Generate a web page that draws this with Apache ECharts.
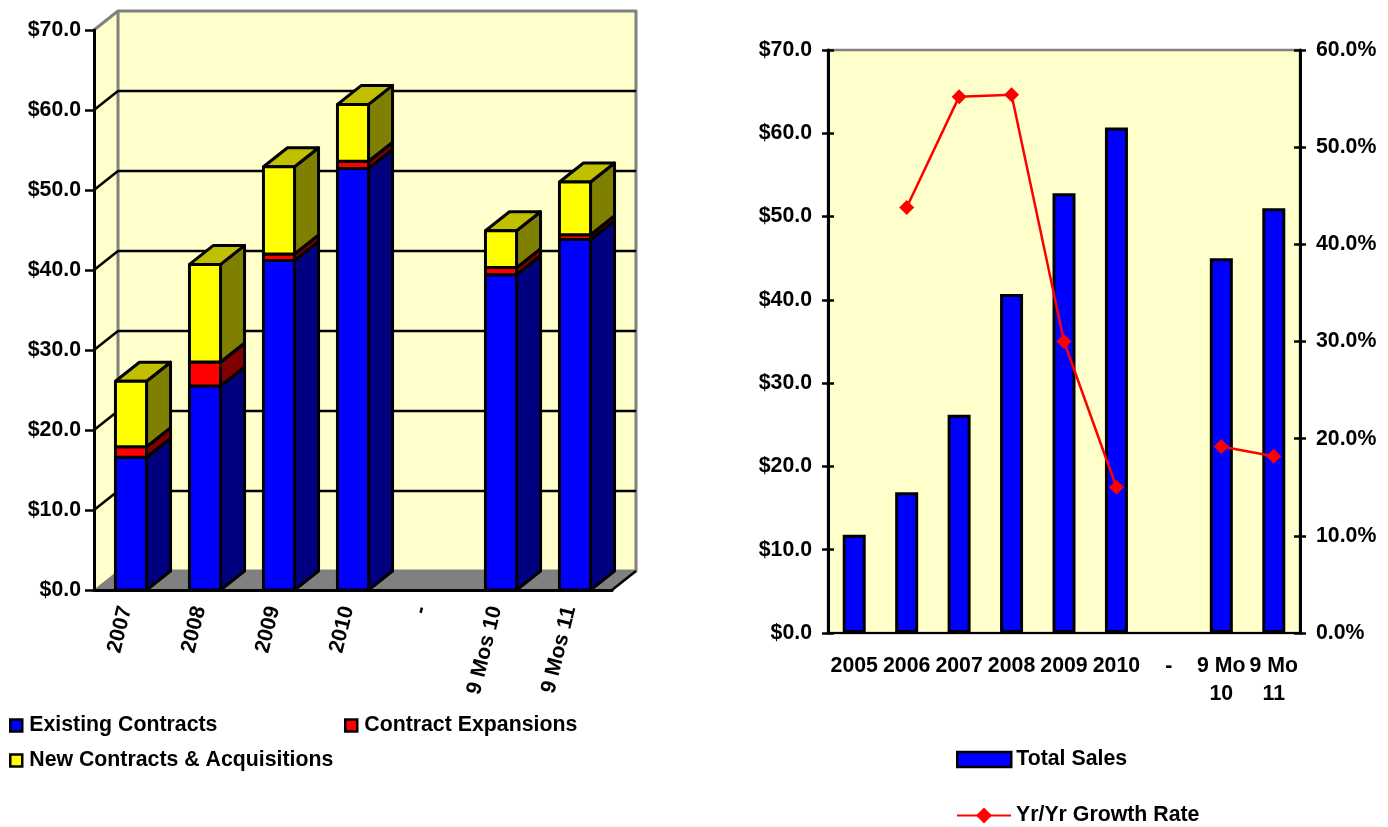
<!DOCTYPE html>
<html><head><meta charset="utf-8">
<style>html,body{margin:0;padding:0;background:#fff}#c{width:1388px;height:827px}</style>
<script src="https://cdn.jsdelivr.net/npm/echarts@6/dist/echarts.min.js"></script>
</head><body><div id="c"></div>
<script>
const leftCategories = ['2007','2008','2009','2010','-','9 Mos 10','9 Mos 11'];
const existingContracts = [16.6, 25.5, 41.2, 52.7, null, 39.4, 43.8];
const contractExpansions = [1.3, 3.0, 0.8, 0.9, null, 0.9, 0.6];
const newContracts = [8.2, 12.2, 10.9, 7.1, null, 4.6, 6.6];
const rightCategories = ['2005','2006','2007','2008','2009','2010','-','9 Mo\n10','9 Mo\n11'];
const totalSales = [11.8, 16.9, 26.2, 40.7, 52.8, 60.7, null, 45.0, 51.0];
const growthRate = [null, 43.8, 55.2, 55.4, 30.0, 15.0, null, 19.2, 18.2];
const wallGridValues = [10, 20, 30, 40, 50, 60];

const FONT = '"Liberation Sans", Arial, sans-serif';
const FS = 21.3;
const DX = 24, DY = -19;
const txt = (s) => ({fontFamily: FONT, fontWeight: 'bold', fontSize: s, color: '#000'});

function poly(points, fill, stroke, width) {
  return {type: 'polygon', shape: {points}, style: {fill: fill, stroke: stroke || '#000', lineWidth: width === undefined ? 3 : width, lineJoin: 'round'}};
}
function line(x1, y1, x2, y2, stroke, w) {
  return {type: 'line', shape: {x1, y1, x2, y2}, style: {stroke: stroke || '#000', lineWidth: w || 2.5}};
}
function renderWall(params, api) {
  const cs = params.coordSys;
  const l = cs.x, r = cs.x + cs.width, t = cs.y, b = cs.y + cs.height;
  const G = '#808080', W = '#FFFFCC';
  const kids = [
    poly([[l,b],[l,t],[l+DX,t+DY],[l+DX,b+DY]], W, 'none', 0),
    poly([[l+DX,t+DY],[r+DX,t+DY],[r+DX,b+DY],[l+DX,b+DY]], W, G),
    poly([[l,b],[r,b],[r+DX,b+DY],[l+DX,b+DY]], G, G, 1),
    line(l, t, l+DX, t+DY, G, 3),
    line(r, b, r+DX, b+DY, '#000')
  ];
  wallGridValues.forEach(v => {
    const y = api.coord([0, v])[1];
    kids.push(line(l, y, l+DX, y+DY));
    kids.push(line(l+DX, y+DY, r+DX, y+DY));
  });
  return {type: 'group', children: kids};
}
function makeBarRenderer(front, side, top) {
  return function (params, api) {
    const i = api.value(0);
    const p0 = api.coord([i, api.value(1)]);
    const p1 = api.coord([i, api.value(2)]);
    const w = api.size([1, 0])[0] * 0.42;
    const a = p0[0] - w / 2, c = p0[0] + w / 2, yb = p0[1], yt = p1[1];
    return {type: 'group', children: [
      poly([[c,yb],[c,yt],[c+DX,yt+DY],[c+DX,yb+DY]], side),
      poly([[a,yt],[c,yt],[c+DX,yt+DY],[a+DX,yt+DY]], top),
      poly([[a,yb],[c,yb],[c,yt],[a,yt]], front)
    ]};
  };
}
function stackData(values, lowers) {
  const out = [];
  values.forEach((v, i) => {
    if (v === null) return;
    const base = lowers.reduce((s, arr) => s + arr[i], 0);
    out.push([i, base, +(base + v).toFixed(2)]);
  });
  return out;
}
function barSeries(name, values, lowers, front, side, top, z) {
  return {name, type: 'custom', xAxisIndex: 0, yAxisIndex: 0, z, clip: false, silent: true,
    itemStyle: {color: front},
    renderItem: makeBarRenderer(front, side, top),
    encode: {x: 0, y: [1, 2]},
    data: stackData(values, lowers), animation: false};
}
const usd = v => '$' + v.toFixed(1);
const swatch = (name, color, left, top) => ({
  left, top, orient: 'horizontal', itemWidth: 12, itemHeight: 12, padding: 0, selectedMode: false,
  data: [{name, icon: 'rect', itemStyle: {color, borderColor: '#000', borderWidth: 2.5}}],
  textStyle: Object.assign(txt(FS), {padding: [0, 0, 0, 2]})
});

const chart = echarts.init(document.getElementById('c'), null, {renderer: 'canvas'});
chart.setOption({
  animation: false,
  backgroundColor: '#fff',
  textStyle: {fontFamily: FONT},
  grid: [
    {left: 94, top: 30, width: 518, height: 560, containLabel: false},
    {left: 828, top: 50, width: 472, height: 583, containLabel: false, show: true,
     backgroundColor: '#FFFFCC', borderColor: '#808080', borderWidth: 2.5}
  ],
  xAxis: [
    {type: 'category', gridIndex: 0, data: leftCategories, z: 10,
     axisLine: {lineStyle: {color: '#000', width: 3}},
     axisTick: {length: 9, lineStyle: {color: '#000', width: 2.5}},
     axisLabel: Object.assign(txt(FS), {rotate: 76, margin: 18, interval: 0, verticalAlign: 'bottom', padding: [0, 0, -5, 0]})},
    {type: 'category', gridIndex: 1, data: rightCategories, z: 10,
     axisLine: {lineStyle: {color: '#000', width: 2}},
     axisTick: {length: 6, lineStyle: {color: '#000', width: 2.5}},
     axisLabel: Object.assign(txt(FS), {margin: 19, interval: 0, lineHeight: 28})},
    {type: 'category', gridIndex: 1, data: rightCategories, z: 10,
     axisLine: {show: false}, axisLabel: {show: false},
     axisTick: {inside: true, length: 6, lineStyle: {color: '#000', width: 2.5}}}
  ],
  yAxis: [
    {type: 'value', gridIndex: 0, min: 0, max: 70, interval: 10, z: 10,
     axisLine: {show: true, lineStyle: {color: '#000', width: 3}},
     axisTick: {show: true, length: 9, lineStyle: {color: '#000', width: 2.5}},
     splitLine: {show: false},
     axisLabel: Object.assign(txt(FS), {margin: 13, formatter: usd})},
    {type: 'value', gridIndex: 1, min: 0, max: 70, interval: 10, z: 10, position: 'left',
     axisLine: {show: true, lineStyle: {color: '#000', width: 3}},
     axisTick: {show: true, length: 6, lineStyle: {color: '#000', width: 2.5}},
     splitLine: {show: false},
     axisLabel: Object.assign(txt(FS), {margin: 16, formatter: usd})},
    {type: 'value', gridIndex: 1, min: 0, max: 60, interval: 10, z: 10, position: 'right',
     axisLine: {show: true, lineStyle: {color: '#000', width: 3}},
     axisTick: {show: true, length: 6, lineStyle: {color: '#000', width: 2.5}},
     splitLine: {show: false},
     axisLabel: Object.assign(txt(FS), {margin: 16, formatter: v => v.toFixed(1) + '%'})},
    {type: 'value', gridIndex: 1, min: 0, max: 70, interval: 10, z: 10, position: 'left',
     axisLine: {show: false}, axisLabel: {show: false}, splitLine: {show: false},
     axisTick: {show: true, inside: true, length: 6, lineStyle: {color: '#000', width: 2.5}}},
    {type: 'value', gridIndex: 1, min: 0, max: 60, interval: 10, z: 10, position: 'right',
     axisLine: {show: false}, axisLabel: {show: false}, splitLine: {show: false},
     axisTick: {show: true, inside: true, length: 6, lineStyle: {color: '#000', width: 2.5}}}
  ],
  legend: [
    swatch('Existing Contracts', '#0000FF', 9, 715),
    swatch('Contract Expansions', '#FF0000', 344, 715),
    swatch('New Contracts & Acquisitions', '#FFFF00', 9, 750),
    {left: 956, top: 749, itemWidth: 54, itemHeight: 15, padding: 0, selectedMode: false,
     data: [{name: 'Total Sales', icon: 'rect', itemStyle: {color: '#0000FF', borderColor: '#000', borderWidth: 2.5}}],
     textStyle: txt(FS)},
    {left: 956, top: 805, itemWidth: 54, itemHeight: 20, padding: 0, selectedMode: false,
     data: [{name: 'Yr/Yr Growth Rate'}], textStyle: txt(FS)}
  ],
  series: [
    {name: 'wall', type: 'custom', xAxisIndex: 0, yAxisIndex: 0, z: 1, clip: false, silent: true,
     renderItem: renderWall, data: [[0, 0]], animation: false},
    barSeries('Existing Contracts', existingContracts, [], '#0000FF', '#000080', '#0000C0', 3),
    barSeries('Contract Expansions', contractExpansions, [existingContracts], '#FF0000', '#800000', '#C00000', 4),
    barSeries('New Contracts & Acquisitions', newContracts, [existingContracts, contractExpansions], '#FFFF00', '#808000', '#C0C000', 5),
    {name: 'Total Sales', type: 'bar', xAxisIndex: 1, yAxisIndex: 1, data: totalSales, barWidth: 23, z: 3,
     itemStyle: {color: '#0000FF', borderColor: '#000', borderWidth: 3}},
    {name: 'Yr/Yr Growth Rate', type: 'line', xAxisIndex: 1, yAxisIndex: 2, data: growthRate, z: 12,
     connectNulls: false, symbol: 'diamond', symbolSize: 15, showAllSymbol: true,
     lineStyle: {color: '#FF0000', width: 2.5}, itemStyle: {color: '#FF0000'}}
  ]
});
</script></body></html>
